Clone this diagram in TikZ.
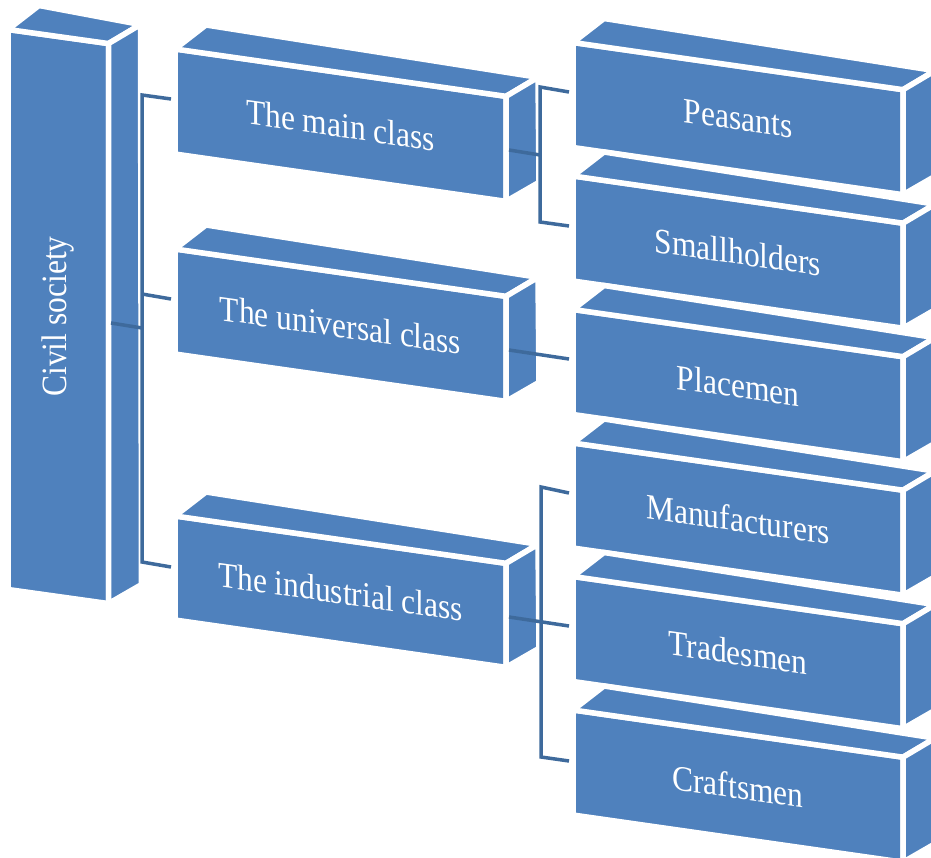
\documentclass[tikz,border=0pt]{standalone}
\usepackage{fontspec}
\setmainfont{Liberation Serif}
\usetikzlibrary{calc}
\definecolor{boxblue}{RGB}{79,129,189}
\definecolor{connblue}{RGB}{62,106,156}
\tikzset{
  boxface/.style={fill=boxblue, draw=white, line width=5.5pt, line join=miter},
  boxtext/.style={text=white, font=\fontsize{31.5}{36}\selectfont, inner sep=0pt, anchor=center},
  conn/.style={draw=connblue, line width=3.5pt, line join=miter},
}
% #1 name, #2 x0, #3 top y at left, #4 width, #5 height, #6 slope
\newcommand{\slab}[6]{%
  \coordinate (#1-tl) at (#2,#3);
  \coordinate (#1-tr) at ($(#1-tl)+(#4,{#6*#4})$);
  \coordinate (#1-bl) at ($(#1-tl)+(0,#5)$);
  \coordinate (#1-br) at ($(#1-tr)+(0,#5)$);
  \coordinate (#1-btl) at ($(#1-tl)+(31,-24)$);
  \coordinate (#1-btr) at ($(#1-tr)+(32,-19)$);
  \coordinate (#1-bbr) at ($(#1-br)+(33,-19)$);
  \path[boxface] (#1-tl) -- (#1-tr) -- (#1-br) -- (#1-bl) -- cycle;
  \path[boxface] (#1-tl) -- (#1-btl) -- (#1-btr) -- (#1-tr) -- cycle;
  \path[boxface] (#1-tr) -- (#1-btr) -- (#1-bbr) -- (#1-br) -- cycle;
  \coordinate (#1-c) at ($(#1-tl)!0.5!(#1-br)$);
}
% #1 name, #2 text, #3 transformation
\newcommand{\slabtext}[3]{%
  \begin{scope}[shift={(#1-c)}]
    \node[boxtext,#3] (#1) at (0,0) {\scalebox{1}[1.13]{#2}};
  \end{scope}
}
\begin{document}
\begin{tikzpicture}[x=1pt,y=-1pt]
  \useasboundingbox (0,0) rectangle (931,858);
  \clip (0,0) rectangle (931,858);
  \fill[white] (0,0) rectangle (931,858);

  % civil society
  \slab{cs}{8}{29.5}{100.5}{560}{0.14}
  \slabtext{cs}{Civil society}{rotate=90}

  % middle column
  \slab{mc}{175}{49}{331}{105}{0.143}
  \slabtext{mc}{The main class}{yslant=-0.143}
  \slab{uc}{175}{249}{331}{105}{0.143}
  \slabtext{uc}{The universal class}{yslant=-0.143}
  \slab{ic}{175}{516}{331}{104}{0.143}
  \slabtext{ic}{The industrial class}{yslant=-0.143}

  % right column
  \slab{pe}{573}{42.5}{330}{105}{0.143}
  \slabtext{pe}{Peasants}{yslant=-0.143}
  \slab{sh}{573}{176}{330}{105}{0.143}
  \slabtext{sh}{Smallholders}{yslant=-0.143}
  \slab{pl}{573}{309.5}{330}{105}{0.143}
  \slabtext{pl}{Placemen}{yslant=-0.143}
  \slab{mf}{573}{443}{330}{105}{0.143}
  \slabtext{mf}{Manufacturers}{yslant=-0.143}
  \slab{tr}{573}{576.5}{330}{105}{0.143}
  \slabtext{tr}{Tradesmen}{yslant=-0.143}
  \slab{cr}{573}{710}{330}{105}{0.143}
  \slabtext{cr}{Craftsmen}{yslant=-0.143}

  % connectors: civil society -> classes
  \coordinate (cs-out) at (111,323);
  \coordinate (cs-j) at (142,328);
  \coordinate (cs-jt) at (142,95);
  \coordinate (cs-jm) at (142,294);
  \coordinate (cs-jb) at (142,562);
  \coordinate (mc-in) at (171,99);
  \coordinate (uc-in) at (171,299);
  \coordinate (ic-in) at (171,567);
  \draw[conn] (mc-in) -- (cs-jt) -- (cs-jb) -- (ic-in);
  \draw[conn] (cs-jm) -- (uc-in);
  \draw[conn] (cs-out) -- (cs-j);

  % main class -> peasants, smallholders
  \coordinate (mc-out) at (509,150);
  \coordinate (mc-j) at (540,155);
  \coordinate (mc-jt) at (540,87);
  \coordinate (mc-jb) at (540,222);
  \coordinate (pe-in) at (569,92);
  \coordinate (sh-in) at (569,226);
  \draw[conn] (pe-in) -- (mc-jt) -- (mc-jb) -- (sh-in);
  \draw[conn] (mc-out) -- (mc-j);

  % universal class -> placemen
  \coordinate (uc-out) at (509,350);
  \coordinate (pl-in) at (569,359);
  \draw[conn] (uc-out) -- (pl-in);

  % industrial class -> manufacturers, tradesmen, craftsmen
  \coordinate (ic-out) at (509,617);
  \coordinate (ic-jt) at (541,487);
  \coordinate (ic-jb) at (541,757);
  \coordinate (mf-in) at (569,493);
  \coordinate (tr-in) at (569,626);
  \coordinate (cr-in) at (569,761);
  \draw[conn] (mf-in) -- (ic-jt) -- (ic-jb) -- (cr-in);
  \draw[conn] (ic-out) -- (tr-in);
\end{tikzpicture}
\end{document}
